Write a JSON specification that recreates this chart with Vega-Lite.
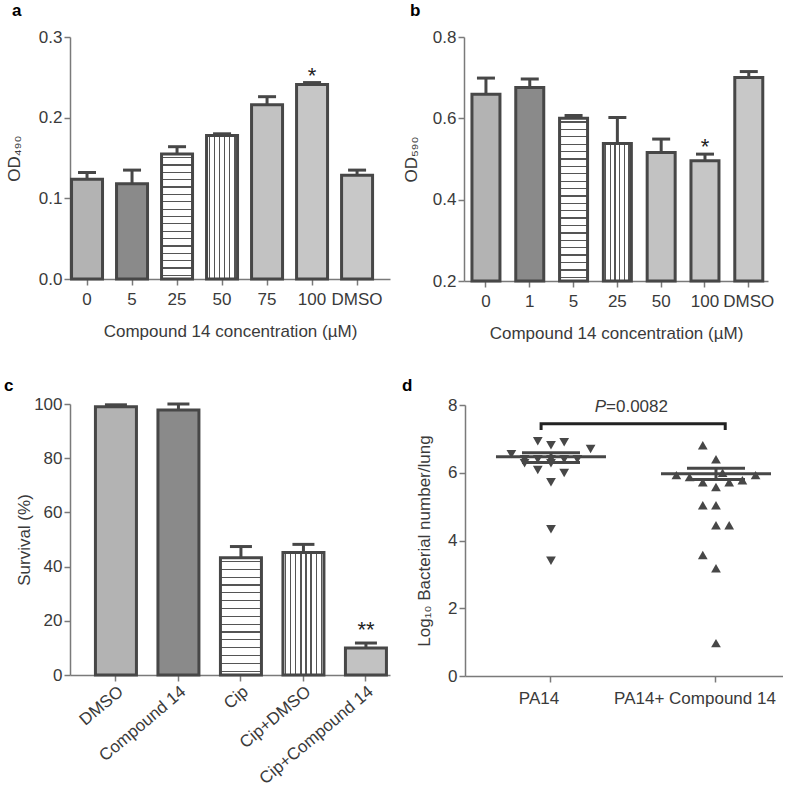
{
  "$schema": "https://vega.github.io/schema/vega-lite/v6.json",
  "padding": {"left": 4, "top": 2, "right": 0, "bottom": 0},
  "background": "white",
  "config": {
    "font": "Liberation Sans",
    "view": {"stroke": null},
    "axis": {"labelFont": "Liberation Sans", "titleFont": "Liberation Sans", "labelFontSize": 17, "titleFontSize": 17, "titleFontWeight": "normal", "labelColor": "#3a3a3a", "titleColor": "#3a3a3a", "domainColor": "#7a7a7a", "tickColor": "#7a7a7a", "domainWidth": 1.5, "tickWidth": 1.5, "tickSize": 6, "grid": false, "labelPadding": 2},
    "title": {"font": "Liberation Sans", "fontSize": 17, "fontWeight": "bold", "anchor": "start", "frame": "group", "color": "#000000", "offset": 8}
  },
  "resolve": {"scale": {"fill": "independent"}},
  "columns": 2,
  "align": "none",
  "spacing": {"row": 36, "column": 12},
  "concat": [
    {
      "title": {"text": "a", "dx": -58},
      "width": 320, "height": 242,
      "data": {"values": [
        {"c": "0", "v": 0.1236, "hi": 0.132},
        {"c": "5", "v": 0.118, "hi": 0.135},
        {"c": "25", "v": 0.155, "hi": 0.164},
        {"c": "50", "v": 0.178, "hi": 0.180},
        {"c": "75", "v": 0.216, "hi": 0.226},
        {"c": "100", "v": 0.241, "hi": 0.2435},
        {"c": "DMSO", "v": 0.1286, "hi": 0.135}
      ]},
      "encoding": {
        "x": {"field": "c", "type": "nominal", "scale": {"domain": ["0", "5", "25", "50", "75", "100", "DMSO"], "paddingInner": 0.27, "paddingOuter": 0.19, "align": 0.035}, "axis": {"title": "Compound 14 concentration (µM)", "labelAngle": 0, "labelPadding": 6, "titlePadding": 16}}
      },
      "layer": [
        {"mark": {"type": "bar", "stroke": "#474747", "strokeWidth": 3, "width": 31},
         "encoding": {
           "y": {"field": "v", "type": "quantitative", "scale": {"domain": [0, 0.3]}, "axis": {"title": "OD₄₉₀", "values": [0, 0.1, 0.2, 0.3], "format": ".1f", "titlePadding": 15}},
           "fill": {
             "condition": [
               {"test": "datum.c === '25'", "value": {"gradient": "linear", "x1": 0, "y1": 0, "x2": 0, "y2": 1, "stops": [
                 {"offset": 0.0244, "color": "#ffffff"}, {"offset": 0.0244, "color": "#555555"}, {"offset": 0.0344, "color": "#555555"}, {"offset": 0.0344, "color": "#ffffff"},
                 {"offset": 0.0832, "color": "#ffffff"}, {"offset": 0.0832, "color": "#555555"}, {"offset": 0.0932, "color": "#555555"}, {"offset": 0.0932, "color": "#ffffff"},
                 {"offset": 0.1421, "color": "#ffffff"}, {"offset": 0.1421, "color": "#555555"}, {"offset": 0.1521, "color": "#555555"}, {"offset": 0.1521, "color": "#ffffff"},
                 {"offset": 0.2009, "color": "#ffffff"}, {"offset": 0.2009, "color": "#555555"}, {"offset": 0.2109, "color": "#555555"}, {"offset": 0.2109, "color": "#ffffff"},
                 {"offset": 0.2597, "color": "#ffffff"}, {"offset": 0.2597, "color": "#555555"}, {"offset": 0.2697, "color": "#555555"}, {"offset": 0.2697, "color": "#ffffff"},
                 {"offset": 0.3185, "color": "#ffffff"}, {"offset": 0.3185, "color": "#555555"}, {"offset": 0.3285, "color": "#555555"}, {"offset": 0.3285, "color": "#ffffff"},
                 {"offset": 0.3774, "color": "#ffffff"}, {"offset": 0.3774, "color": "#555555"}, {"offset": 0.3874, "color": "#555555"}, {"offset": 0.3874, "color": "#ffffff"},
                 {"offset": 0.4362, "color": "#ffffff"}, {"offset": 0.4362, "color": "#555555"}, {"offset": 0.4462, "color": "#555555"}, {"offset": 0.4462, "color": "#ffffff"},
                 {"offset": 0.495, "color": "#ffffff"}, {"offset": 0.495, "color": "#555555"}, {"offset": 0.505, "color": "#555555"}, {"offset": 0.505, "color": "#ffffff"},
                 {"offset": 0.5538, "color": "#ffffff"}, {"offset": 0.5538, "color": "#555555"}, {"offset": 0.5638, "color": "#555555"}, {"offset": 0.5638, "color": "#ffffff"},
                 {"offset": 0.6126, "color": "#ffffff"}, {"offset": 0.6126, "color": "#555555"}, {"offset": 0.6226, "color": "#555555"}, {"offset": 0.6226, "color": "#ffffff"},
                 {"offset": 0.6715, "color": "#ffffff"}, {"offset": 0.6715, "color": "#555555"}, {"offset": 0.6815, "color": "#555555"}, {"offset": 0.6815, "color": "#ffffff"},
                 {"offset": 0.7303, "color": "#ffffff"}, {"offset": 0.7303, "color": "#555555"}, {"offset": 0.7403, "color": "#555555"}, {"offset": 0.7403, "color": "#ffffff"},
                 {"offset": 0.7891, "color": "#ffffff"}, {"offset": 0.7891, "color": "#555555"}, {"offset": 0.7991, "color": "#555555"}, {"offset": 0.7991, "color": "#ffffff"},
                 {"offset": 0.8479, "color": "#ffffff"}, {"offset": 0.8479, "color": "#555555"}, {"offset": 0.8579, "color": "#555555"}, {"offset": 0.8579, "color": "#ffffff"},
                 {"offset": 0.9068, "color": "#ffffff"}, {"offset": 0.9068, "color": "#555555"}, {"offset": 0.9168, "color": "#555555"}, {"offset": 0.9168, "color": "#ffffff"},
                 {"offset": 0.9656, "color": "#ffffff"}, {"offset": 0.9656, "color": "#555555"}, {"offset": 0.9756, "color": "#555555"}, {"offset": 0.9756, "color": "#ffffff"}
               ]}},
               {"test": "datum.c === '50'", "value": {"gradient": "linear", "x1": 0, "y1": 0, "x2": 1, "y2": 0, "stops": [
                 {"offset": 0.0633, "color": "#ffffff"}, {"offset": 0.0633, "color": "#555555"}, {"offset": 0.1033, "color": "#555555"}, {"offset": 0.1033, "color": "#ffffff"},
                 {"offset": 0.23, "color": "#ffffff"}, {"offset": 0.23, "color": "#555555"}, {"offset": 0.27, "color": "#555555"}, {"offset": 0.27, "color": "#ffffff"},
                 {"offset": 0.3967, "color": "#ffffff"}, {"offset": 0.3967, "color": "#555555"}, {"offset": 0.4367, "color": "#555555"}, {"offset": 0.4367, "color": "#ffffff"},
                 {"offset": 0.5633, "color": "#ffffff"}, {"offset": 0.5633, "color": "#555555"}, {"offset": 0.6033, "color": "#555555"}, {"offset": 0.6033, "color": "#ffffff"},
                 {"offset": 0.73, "color": "#ffffff"}, {"offset": 0.73, "color": "#555555"}, {"offset": 0.77, "color": "#555555"}, {"offset": 0.77, "color": "#ffffff"},
                 {"offset": 0.8967, "color": "#ffffff"}, {"offset": 0.8967, "color": "#555555"}, {"offset": 0.9367, "color": "#555555"}, {"offset": 0.9367, "color": "#ffffff"}
               ]}}
             ],
             "field": "c", "type": "nominal", "scale": {"domain": ["0", "5", "25", "50", "75", "100", "DMSO"], "range": ["#b3b3b3", "#8a8a8a", "#d4d4d4", "#d8d8d8", "#c2c2c2", "#c6c6c6", "#c8c8c8"]}, "legend": null}
         }},
        {"mark": {"type": "rule", "stroke": "#474747", "strokeWidth": 3},
         "encoding": {"y": {"field": "v", "type": "quantitative"}, "y2": {"field": "hi"}}},
        {"mark": {"type": "tick", "color": "#474747", "thickness": 3, "size": 18, "opacity": 1},
         "encoding": {"y": {"field": "hi", "type": "quantitative"}}},
        {"data": {"values": [{"c": "100", "y": 0.2435, "t": "*"}]},
         "mark": {"type": "text", "fontSize": 22, "color": "#222222", "baseline": "alphabetic"},
         "encoding": {"y": {"field": "y", "type": "quantitative"}, "text": {"field": "t"}}}
      ]
    },
    {
      "title": {"text": "b", "dx": -54},
      "width": 304, "height": 244,
      "data": {"values": [
        {"c": "0", "v": 0.659, "hi": 0.699},
        {"c": "1", "v": 0.676, "hi": 0.697},
        {"c": "5", "v": 0.600, "hi": 0.607},
        {"c": "25", "v": 0.538, "hi": 0.602},
        {"c": "50", "v": 0.516, "hi": 0.549},
        {"c": "100", "v": 0.496, "hi": 0.512},
        {"c": "DMSO", "v": 0.7005, "hi": 0.715}
      ]},
      "encoding": {
        "x": {"field": "c", "type": "nominal", "scale": {"domain": ["0", "1", "5", "25", "50", "100", "DMSO"], "paddingInner": 0.32, "paddingOuter": 0.13, "align": 0.62}, "axis": {"title": "Compound 14 concentration (µM)", "labelAngle": 0, "labelPadding": 6, "titlePadding": 16}}
      },
      "layer": [
        {"mark": {"type": "bar", "stroke": "#474747", "strokeWidth": 3, "width": 28},
         "encoding": {
           "y": {"field": "v", "type": "quantitative", "scale": {"domain": [0.2, 0.8], "zero": false}, "axis": {"title": "OD₅₉₀", "values": [0.2, 0.4, 0.6, 0.8], "format": ".1f", "titlePadding": 12}},
           "y2": {"datum": 0.2},
           "fill": {
             "condition": [
               {"test": "datum.c === '5'", "value": {"gradient": "linear", "x1": 0, "y1": 0, "x2": 0, "y2": 1, "stops": [
                 {"offset": 0.0187, "color": "#ffffff"}, {"offset": 0.0187, "color": "#555555"}, {"offset": 0.0267, "color": "#555555"}, {"offset": 0.0267, "color": "#ffffff"},
                 {"offset": 0.0642, "color": "#ffffff"}, {"offset": 0.0642, "color": "#555555"}, {"offset": 0.0722, "color": "#555555"}, {"offset": 0.0722, "color": "#ffffff"},
                 {"offset": 0.1096, "color": "#ffffff"}, {"offset": 0.1096, "color": "#555555"}, {"offset": 0.1176, "color": "#555555"}, {"offset": 0.1176, "color": "#ffffff"},
                 {"offset": 0.1551, "color": "#ffffff"}, {"offset": 0.1551, "color": "#555555"}, {"offset": 0.1631, "color": "#555555"}, {"offset": 0.1631, "color": "#ffffff"},
                 {"offset": 0.2005, "color": "#ffffff"}, {"offset": 0.2005, "color": "#555555"}, {"offset": 0.2085, "color": "#555555"}, {"offset": 0.2085, "color": "#ffffff"},
                 {"offset": 0.246, "color": "#ffffff"}, {"offset": 0.246, "color": "#555555"}, {"offset": 0.254, "color": "#555555"}, {"offset": 0.254, "color": "#ffffff"},
                 {"offset": 0.2915, "color": "#ffffff"}, {"offset": 0.2915, "color": "#555555"}, {"offset": 0.2995, "color": "#555555"}, {"offset": 0.2995, "color": "#ffffff"},
                 {"offset": 0.3369, "color": "#ffffff"}, {"offset": 0.3369, "color": "#555555"}, {"offset": 0.3449, "color": "#555555"}, {"offset": 0.3449, "color": "#ffffff"},
                 {"offset": 0.3824, "color": "#ffffff"}, {"offset": 0.3824, "color": "#555555"}, {"offset": 0.3904, "color": "#555555"}, {"offset": 0.3904, "color": "#ffffff"},
                 {"offset": 0.4278, "color": "#ffffff"}, {"offset": 0.4278, "color": "#555555"}, {"offset": 0.4358, "color": "#555555"}, {"offset": 0.4358, "color": "#ffffff"},
                 {"offset": 0.4733, "color": "#ffffff"}, {"offset": 0.4733, "color": "#555555"}, {"offset": 0.4813, "color": "#555555"}, {"offset": 0.4813, "color": "#ffffff"},
                 {"offset": 0.5187, "color": "#ffffff"}, {"offset": 0.5187, "color": "#555555"}, {"offset": 0.5267, "color": "#555555"}, {"offset": 0.5267, "color": "#ffffff"},
                 {"offset": 0.5642, "color": "#ffffff"}, {"offset": 0.5642, "color": "#555555"}, {"offset": 0.5722, "color": "#555555"}, {"offset": 0.5722, "color": "#ffffff"},
                 {"offset": 0.6096, "color": "#ffffff"}, {"offset": 0.6096, "color": "#555555"}, {"offset": 0.6176, "color": "#555555"}, {"offset": 0.6176, "color": "#ffffff"},
                 {"offset": 0.6551, "color": "#ffffff"}, {"offset": 0.6551, "color": "#555555"}, {"offset": 0.6631, "color": "#555555"}, {"offset": 0.6631, "color": "#ffffff"},
                 {"offset": 0.7005, "color": "#ffffff"}, {"offset": 0.7005, "color": "#555555"}, {"offset": 0.7085, "color": "#555555"}, {"offset": 0.7085, "color": "#ffffff"},
                 {"offset": 0.746, "color": "#ffffff"}, {"offset": 0.746, "color": "#555555"}, {"offset": 0.754, "color": "#555555"}, {"offset": 0.754, "color": "#ffffff"},
                 {"offset": 0.7915, "color": "#ffffff"}, {"offset": 0.7915, "color": "#555555"}, {"offset": 0.7995, "color": "#555555"}, {"offset": 0.7995, "color": "#ffffff"},
                 {"offset": 0.8369, "color": "#ffffff"}, {"offset": 0.8369, "color": "#555555"}, {"offset": 0.8449, "color": "#555555"}, {"offset": 0.8449, "color": "#ffffff"},
                 {"offset": 0.8824, "color": "#ffffff"}, {"offset": 0.8824, "color": "#555555"}, {"offset": 0.8904, "color": "#555555"}, {"offset": 0.8904, "color": "#ffffff"},
                 {"offset": 0.9278, "color": "#ffffff"}, {"offset": 0.9278, "color": "#555555"}, {"offset": 0.9358, "color": "#555555"}, {"offset": 0.9358, "color": "#ffffff"},
                 {"offset": 0.9733, "color": "#ffffff"}, {"offset": 0.9733, "color": "#555555"}, {"offset": 0.9813, "color": "#555555"}, {"offset": 0.9813, "color": "#ffffff"}
               ]}},
               {"test": "datum.c === '25'", "value": {"gradient": "linear", "x1": 0, "y1": 0, "x2": 1, "y2": 0, "stops": [
                 {"offset": 0.0603, "color": "#ffffff"}, {"offset": 0.0603, "color": "#555555"}, {"offset": 0.1063, "color": "#555555"}, {"offset": 0.1063, "color": "#ffffff"},
                 {"offset": 0.227, "color": "#ffffff"}, {"offset": 0.227, "color": "#555555"}, {"offset": 0.273, "color": "#555555"}, {"offset": 0.273, "color": "#ffffff"},
                 {"offset": 0.3937, "color": "#ffffff"}, {"offset": 0.3937, "color": "#555555"}, {"offset": 0.4397, "color": "#555555"}, {"offset": 0.4397, "color": "#ffffff"},
                 {"offset": 0.5603, "color": "#ffffff"}, {"offset": 0.5603, "color": "#555555"}, {"offset": 0.6063, "color": "#555555"}, {"offset": 0.6063, "color": "#ffffff"},
                 {"offset": 0.727, "color": "#ffffff"}, {"offset": 0.727, "color": "#555555"}, {"offset": 0.773, "color": "#555555"}, {"offset": 0.773, "color": "#ffffff"},
                 {"offset": 0.8937, "color": "#ffffff"}, {"offset": 0.8937, "color": "#555555"}, {"offset": 0.9397, "color": "#555555"}, {"offset": 0.9397, "color": "#ffffff"}
               ]}}
             ],
             "field": "c", "type": "nominal", "scale": {"domain": ["0", "1", "5", "25", "50", "100", "DMSO"], "range": ["#b3b3b3", "#8a8a8a", "#d4d4d4", "#d8d8d8", "#c2c2c2", "#c6c6c6", "#c8c8c8"]}, "legend": null}
         }},
        {"mark": {"type": "rule", "stroke": "#474747", "strokeWidth": 3},
         "encoding": {"y": {"field": "v", "type": "quantitative"}, "y2": {"field": "hi"}}},
        {"mark": {"type": "tick", "color": "#474747", "thickness": 3, "size": 18, "opacity": 1},
         "encoding": {"y": {"field": "hi", "type": "quantitative"}}},
        {"data": {"values": [{"c": "100", "y": 0.512, "t": "*"}]},
         "mark": {"type": "text", "fontSize": 22, "color": "#222222", "baseline": "alphabetic"},
         "encoding": {"y": {"field": "y", "type": "quantitative"}, "text": {"field": "t"}}}
      ]
    },
    {
      "title": {"text": "c", "dx": -66, "offset": 0},
      "width": 320, "height": 271,
      "data": {"values": [
        {"c": "DMSO", "v": 99.0, "hi": 99.7},
        {"c": "Compound 14", "v": 97.8, "hi": 100.0},
        {"c": "Cip", "v": 43.3, "hi": 47.4},
        {"c": "Cip+DMSO", "v": 45.2, "hi": 48.2},
        {"c": "Cip+Compound 14", "v": 10.0, "hi": 11.8}
      ]},
      "encoding": {
        "x": {"field": "c", "type": "nominal", "scale": {"domain": ["DMSO", "Compound 14", "Cip", "Cip+DMSO", "Cip+Compound 14"], "paddingInner": 0.31, "paddingOuter": 0.215, "align": 0.907}, "axis": {"title": null, "labelAngle": -40}}
      },
      "layer": [
        {"mark": {"type": "bar", "stroke": "#474747", "strokeWidth": 3, "width": 41},
         "encoding": {
           "y": {"field": "v", "type": "quantitative", "scale": {"domain": [0, 100]}, "axis": {"title": "Survival (%)", "values": [0, 20, 40, 60, 80, 100], "titlePadding": 0}},
           "fill": {
             "condition": [
               {"test": "datum.c === 'Cip'", "value": {"gradient": "linear", "x1": 0, "y1": 0, "x2": 0, "y2": 1, "stops": [
                 {"offset": 0.0283, "color": "#ffffff"}, {"offset": 0.0283, "color": "#555555"}, {"offset": 0.0383, "color": "#555555"}, {"offset": 0.0383, "color": "#ffffff"},
                 {"offset": 0.095, "color": "#ffffff"}, {"offset": 0.095, "color": "#555555"}, {"offset": 0.105, "color": "#555555"}, {"offset": 0.105, "color": "#ffffff"},
                 {"offset": 0.1617, "color": "#ffffff"}, {"offset": 0.1617, "color": "#555555"}, {"offset": 0.1717, "color": "#555555"}, {"offset": 0.1717, "color": "#ffffff"},
                 {"offset": 0.2283, "color": "#ffffff"}, {"offset": 0.2283, "color": "#555555"}, {"offset": 0.2383, "color": "#555555"}, {"offset": 0.2383, "color": "#ffffff"},
                 {"offset": 0.295, "color": "#ffffff"}, {"offset": 0.295, "color": "#555555"}, {"offset": 0.305, "color": "#555555"}, {"offset": 0.305, "color": "#ffffff"},
                 {"offset": 0.3617, "color": "#ffffff"}, {"offset": 0.3617, "color": "#555555"}, {"offset": 0.3717, "color": "#555555"}, {"offset": 0.3717, "color": "#ffffff"},
                 {"offset": 0.4283, "color": "#ffffff"}, {"offset": 0.4283, "color": "#555555"}, {"offset": 0.4383, "color": "#555555"}, {"offset": 0.4383, "color": "#ffffff"},
                 {"offset": 0.495, "color": "#ffffff"}, {"offset": 0.495, "color": "#555555"}, {"offset": 0.505, "color": "#555555"}, {"offset": 0.505, "color": "#ffffff"},
                 {"offset": 0.5617, "color": "#ffffff"}, {"offset": 0.5617, "color": "#555555"}, {"offset": 0.5717, "color": "#555555"}, {"offset": 0.5717, "color": "#ffffff"},
                 {"offset": 0.6283, "color": "#ffffff"}, {"offset": 0.6283, "color": "#555555"}, {"offset": 0.6383, "color": "#555555"}, {"offset": 0.6383, "color": "#ffffff"},
                 {"offset": 0.695, "color": "#ffffff"}, {"offset": 0.695, "color": "#555555"}, {"offset": 0.705, "color": "#555555"}, {"offset": 0.705, "color": "#ffffff"},
                 {"offset": 0.7617, "color": "#ffffff"}, {"offset": 0.7617, "color": "#555555"}, {"offset": 0.7717, "color": "#555555"}, {"offset": 0.7717, "color": "#ffffff"},
                 {"offset": 0.8283, "color": "#ffffff"}, {"offset": 0.8283, "color": "#555555"}, {"offset": 0.8383, "color": "#555555"}, {"offset": 0.8383, "color": "#ffffff"},
                 {"offset": 0.895, "color": "#ffffff"}, {"offset": 0.895, "color": "#555555"}, {"offset": 0.905, "color": "#555555"}, {"offset": 0.905, "color": "#ffffff"},
                 {"offset": 0.9617, "color": "#ffffff"}, {"offset": 0.9617, "color": "#555555"}, {"offset": 0.9717, "color": "#555555"}, {"offset": 0.9717, "color": "#ffffff"}
               ]}},
               {"test": "datum.c === 'Cip+DMSO'", "value": {"gradient": "linear", "x1": 0, "y1": 0, "x2": 1, "y2": 0, "stops": [
                 {"offset": 0.0465, "color": "#ffffff"}, {"offset": 0.0465, "color": "#555555"}, {"offset": 0.0785, "color": "#555555"}, {"offset": 0.0785, "color": "#ffffff"},
                 {"offset": 0.1715, "color": "#ffffff"}, {"offset": 0.1715, "color": "#555555"}, {"offset": 0.2035, "color": "#555555"}, {"offset": 0.2035, "color": "#ffffff"},
                 {"offset": 0.2965, "color": "#ffffff"}, {"offset": 0.2965, "color": "#555555"}, {"offset": 0.3285, "color": "#555555"}, {"offset": 0.3285, "color": "#ffffff"},
                 {"offset": 0.4215, "color": "#ffffff"}, {"offset": 0.4215, "color": "#555555"}, {"offset": 0.4535, "color": "#555555"}, {"offset": 0.4535, "color": "#ffffff"},
                 {"offset": 0.5465, "color": "#ffffff"}, {"offset": 0.5465, "color": "#555555"}, {"offset": 0.5785, "color": "#555555"}, {"offset": 0.5785, "color": "#ffffff"},
                 {"offset": 0.6715, "color": "#ffffff"}, {"offset": 0.6715, "color": "#555555"}, {"offset": 0.7035, "color": "#555555"}, {"offset": 0.7035, "color": "#ffffff"},
                 {"offset": 0.7965, "color": "#ffffff"}, {"offset": 0.7965, "color": "#555555"}, {"offset": 0.8285, "color": "#555555"}, {"offset": 0.8285, "color": "#ffffff"},
                 {"offset": 0.9215, "color": "#ffffff"}, {"offset": 0.9215, "color": "#555555"}, {"offset": 0.9535, "color": "#555555"}, {"offset": 0.9535, "color": "#ffffff"}
               ]}}
             ],
             "field": "c", "type": "nominal", "scale": {"domain": ["DMSO", "Compound 14", "Cip", "Cip+DMSO", "Cip+Compound 14"], "range": ["#b3b3b3", "#8a8a8a", "#d4d4d4", "#d8d8d8", "#c2c2c2"]}, "legend": null}
         }},
        {"mark": {"type": "rule", "stroke": "#474747", "strokeWidth": 3},
         "encoding": {"y": {"field": "v", "type": "quantitative"}, "y2": {"field": "hi"}}},
        {"mark": {"type": "tick", "color": "#474747", "thickness": 3, "size": 22, "opacity": 1},
         "encoding": {"y": {"field": "hi", "type": "quantitative"}}},
        {"data": {"values": [{"c": "Cip+Compound 14", "y": 14.2, "t": "**"}]},
         "mark": {"type": "text", "fontSize": 22, "color": "#222222", "baseline": "alphabetic"},
         "encoding": {"y": {"field": "y", "type": "quantitative"}, "text": {"field": "t"}}}
      ]
    },
    {
      "title": {"text": "d", "dx": -63, "offset": 1},
      "width": 318, "height": 271,
      "encoding": {
        "x": {"field": "g", "type": "nominal", "scale": {"domain": ["PA14", "PA14+ Compound 14"], "paddingInner": 0.2, "paddingOuter": 0.0636, "align": 0.952}, "axis": {"title": null, "labelAngle": 0, "labelPadding": 8, "labelOffset": {"condition": {"test": "datum.value == 'PA14'", "value": -12}, "value": -21}}}
      },
      "layer": [
        {"data": {"values": [
          {"g": "PA14", "o": -1, "v": 6.93}, {"g": "PA14", "o": 0, "v": 6.81}, {"g": "PA14", "o": 1, "v": 6.9},
          {"g": "PA14", "o": 3, "v": 6.7}, {"g": "PA14", "o": -3, "v": 6.55},
          {"g": "PA14", "o": -2, "v": 6.4}, {"g": "PA14", "o": -1, "v": 6.4}, {"g": "PA14", "o": 0, "v": 6.4}, {"g": "PA14", "o": 1, "v": 6.4}, {"g": "PA14", "o": 2, "v": 6.4},
          {"g": "PA14", "o": -2, "v": 6.28}, {"g": "PA14", "o": -1, "v": 6.08}, {"g": "PA14", "o": 0, "v": 6.28}, {"g": "PA14", "o": 1, "v": 5.99},
          {"g": "PA14", "o": 0, "v": 5.72}, {"g": "PA14", "o": 0, "v": 4.33}, {"g": "PA14", "o": 0, "v": 3.4}
         ]},
         "mark": {"type": "point", "shape": "triangle-down", "filled": true, "size": 95, "color": "#474747", "opacity": 1},
         "encoding": {
           "xOffset": {"field": "o", "type": "quantitative", "scale": {"domain": [-5, 5]}},
           "y": {"field": "v", "type": "quantitative", "scale": {"domain": [0, 8]}, "axis": {"title": "Log₁₀ Bacterial number/lung", "values": [0, 2, 4, 6, 8], "titlePadding": 14}}
         }},
        {"data": {"values": [
          {"g": "PA14+ Compound 14", "o": -1, "v": 6.81}, {"g": "PA14+ Compound 14", "o": 0, "v": 6.4},
          {"g": "PA14+ Compound 14", "o": -3, "v": 5.93}, {"g": "PA14+ Compound 14", "o": 3, "v": 5.93},
          {"g": "PA14+ Compound 14", "o": -2, "v": 5.87}, {"g": "PA14+ Compound 14", "o": -1, "v": 5.72},
          {"g": "PA14+ Compound 14", "o": 0, "v": 5.58}, {"g": "PA14+ Compound 14", "o": 1, "v": 5.72},
          {"g": "PA14+ Compound 14", "o": 2, "v": 5.78}, {"g": "PA14+ Compound 14", "o": 0.5, "v": 6.0},
          {"g": "PA14+ Compound 14", "o": -1, "v": 5.04}, {"g": "PA14+ Compound 14", "o": 0, "v": 5.04},
          {"g": "PA14+ Compound 14", "o": 0, "v": 4.45}, {"g": "PA14+ Compound 14", "o": 1, "v": 4.45},
          {"g": "PA14+ Compound 14", "o": -1, "v": 3.57}, {"g": "PA14+ Compound 14", "o": 0, "v": 3.18},
          {"g": "PA14+ Compound 14", "o": 0, "v": 0.97}
         ]},
         "mark": {"type": "point", "shape": "triangle-up", "filled": true, "size": 95, "color": "#474747", "opacity": 1},
         "encoding": {
           "xOffset": {"field": "o", "type": "quantitative"},
           "y": {"field": "v", "type": "quantitative"}
         }},
        {"data": {"values": [
          {"g": "PA14", "m": 6.47, "lo": 6.3, "hi": 6.59},
          {"g": "PA14+ Compound 14", "m": 5.97, "lo": 5.8, "hi": 6.13}
         ]},
         "layer": [
           {"mark": {"type": "tick", "color": "#474747", "thickness": 3, "size": 110, "opacity": 1},
            "encoding": {"y": {"field": "m", "type": "quantitative"}}},
           {"mark": {"type": "tick", "color": "#474747", "thickness": 3, "size": 58, "opacity": 1},
            "encoding": {"y": {"field": "hi", "type": "quantitative"}}},
           {"mark": {"type": "tick", "color": "#474747", "thickness": 3, "size": 58, "opacity": 1},
            "encoding": {"y": {"field": "lo", "type": "quantitative"}}},
           {"mark": {"type": "rule", "stroke": "#474747", "strokeWidth": 3},
            "encoding": {"y": {"field": "lo", "type": "quantitative"}, "y2": {"field": "hi"}}}
         ]},
        {"data": {"values": [
          {"g": "PA14", "o": -0.75, "v": 7.26, "k": 1},
          {"g": "PA14", "o": -0.75, "v": 7.45, "k": 2},
          {"g": "PA14+ Compound 14", "o": 0.7, "v": 7.45, "k": 3},
          {"g": "PA14+ Compound 14", "o": 0.7, "v": 7.26, "k": 4}
         ]},
         "mark": {"type": "line", "stroke": "#222222", "strokeWidth": 3, "strokeJoin": "miter", "strokeCap": "butt"},
         "encoding": {
           "xOffset": {"field": "o", "type": "quantitative"},
           "y": {"field": "v", "type": "quantitative"},
           "order": {"field": "k", "type": "quantitative"}
         }},
        {"data": {"values": [{"g": "PA14", "o": 4.17, "v": 7.8, "t": "P"}]},
         "mark": {"type": "text", "fontSize": 17, "fontStyle": "italic", "align": "right", "baseline": "alphabetic", "color": "#3a3a3a"},
         "encoding": {"xOffset": {"field": "o", "type": "quantitative"}, "y": {"field": "v", "type": "quantitative"}, "text": {"field": "t"}}},
        {"data": {"values": [{"g": "PA14", "o": 4.17, "v": 7.8, "t": "=0.0082"}]},
         "mark": {"type": "text", "fontSize": 17, "align": "left", "baseline": "alphabetic", "color": "#3a3a3a"},
         "encoding": {"xOffset": {"field": "o", "type": "quantitative"}, "y": {"field": "v", "type": "quantitative"}, "text": {"field": "t"}}}
      ]
    }
  ]
}
